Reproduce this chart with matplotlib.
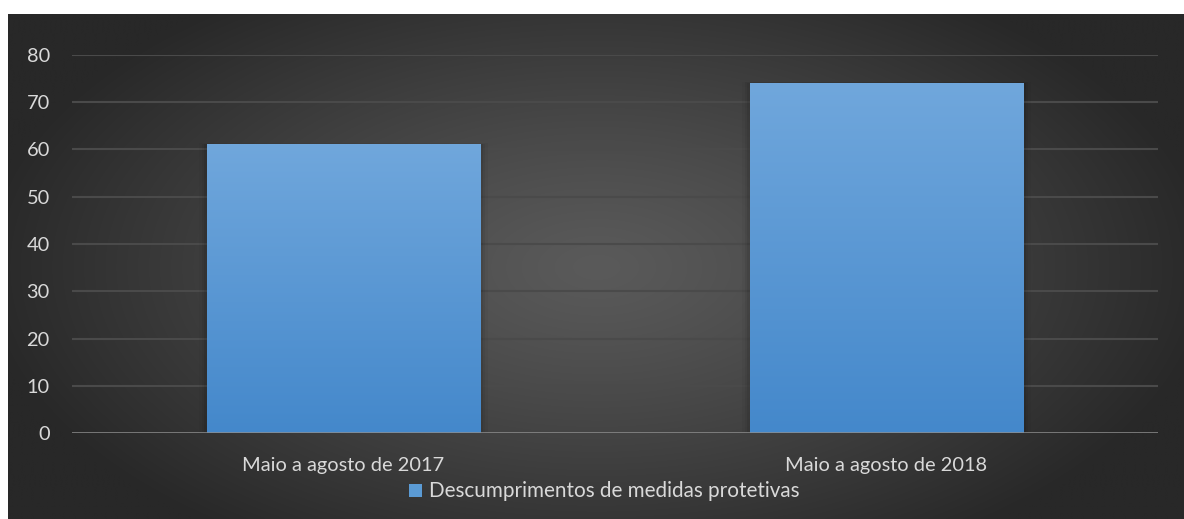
import numpy as np
import matplotlib
matplotlib.use("Agg")
import matplotlib.pyplot as plt
from matplotlib.patches import Rectangle

categories = ["Maio a agosto de 2017", "Maio a agosto de 2018"]
values = [61, 74]
series_name = "Descumprimentos de medidas protetivas"
yticks = [0, 10, 20, 30, 40, 50, 60, 70, 80]

W, H = 1184, 519
fig = plt.figure(figsize=(W / 100, H / 100), dpi=100)
fig.patch.set_facecolor("white")
plt.rcParams['font.family'] = ['Lato', 'DejaVu Sans']
txt = "#d9d9d9"
fs = 14.4

# background panel with radial gradient
bg = fig.add_axes([8 / W, 0, (W - 8) / W, (H - 14) / H])
bg.set_axis_off()
ny, nx = 300, 700
yy, xx = np.mgrid[0:ny, 0:nx]
cx, cy = nx * 0.5, ny * 0.5
r = np.sqrt(((xx - cx) / (nx * 0.5)) ** 2 + ((yy - cy) / (ny * 0.62)) ** 2)
r = np.clip(r / 1.05, 0, 1)
c0 = np.array([0x5a, 0x5a, 0x5a]) / 255
c1 = np.array([0x28, 0x28, 0x28]) / 255
img = c0[None, None, :] * (1 - r[..., None] ** 1.2) + c1[None, None, :] * (r[..., None] ** 1.2)
bg.imshow(img, aspect="auto", extent=[0, 1, 0, 1], interpolation="bilinear")
bg.set_xlim(0, 1); bg.set_ylim(0, 1)

# plot area
x0, x1 = 72, 1158
ytop, ybot = 55, 433
ax = fig.add_axes([x0 / W, 1 - ybot / H, (x1 - x0) / W, (ybot - ytop) / H])
ax.set_facecolor("none")
for s in ax.spines.values():
    s.set_visible(False)
ax.set_yticks(yticks)
ax.set_yticklabels([str(t) for t in yticks], color=txt, fontsize=fs)
ax.tick_params(axis="y", length=0, pad=16)
ax.tick_params(axis="x", length=0, pad=17, colors=txt, labelsize=fs)
ax.set_xticks(range(len(categories)))
ax.set_xticklabels(categories, color=txt, fontsize=fs)
for t in yticks[1:]:
    ax.axhline(t, color="#4a4a4a", lw=1.5, zorder=1)
ax.axhline(0, color="#8e8e8e", lw=1.8, zorder=4)

bw = 0.503
bars = ax.bar(range(len(categories)), values, width=bw, color="none", zorder=2)
grad = np.linspace(0, 1, 256)[:, None]
top = np.array([0x70, 0xa7, 0xdc]) / 255
bot = np.array([0x44, 0x88, 0xcb]) / 255
gimg = top[None, None, :] * (1 - grad[..., None]) + bot[None, None, :] * grad[..., None]
for b in bars:
    bx, by, bwid, bh = b.get_x(), b.get_y(), b.get_width(), b.get_height()
    for k, a in enumerate([0.07, 0.05, 0.03]):
        d = 0.005 * (k + 1)
        ax.add_patch(Rectangle((bx - d, by), bwid + 2 * d, bh + d * 20,
                               facecolor="black", alpha=a, lw=0, zorder=1.5))
    ax.imshow(gimg, extent=[bx, bx + bwid, by, by + bh], aspect="auto", zorder=3,
              interpolation="bilinear")
ax.set_xlim(-0.5, len(categories) - 0.5)
ax.set_ylim(0, 80)

# legend
lx = 409 / W
ly = 1 - 497 / H
fig.patches.append(Rectangle((lx, ly), 13 / W, 13 / H, transform=fig.transFigure,
                             facecolor="#5b9bd5", edgecolor="none", figure=fig))
fig.text(429 / W, 1 - 491 / H, series_name, color=txt, fontsize=fs * 1.03,
         va="center", ha="left")

fig.savefig("out.png", dpi=100, facecolor=fig.get_facecolor())
